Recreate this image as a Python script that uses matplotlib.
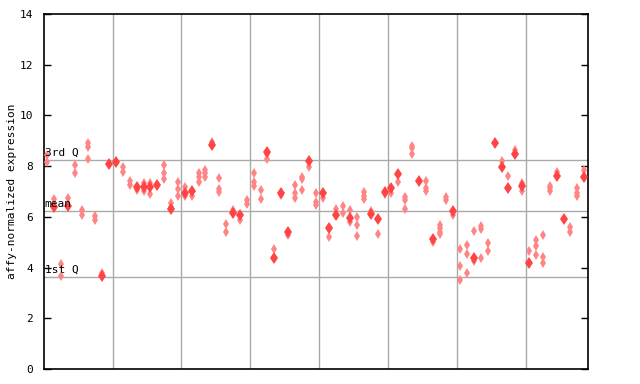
import matplotlib
matplotlib.use("Agg")
import matplotlib.pyplot as plt

# per-sample replicate values (open/checkered markers and filled markers)
open_values = [
    [8.44, 8.16], [6.7], [4.15, 3.65], [6.74], [8.04, 7.73],
    [6.27, 6.07], [8.91, 8.75, 8.3], [6.03, 5.87], [3.79], [],
    [], [7.97, 7.77], [7.41, 7.26], [7.05], [7.33, 7.02],
    [7.33, 6.9], [], [8.04, 7.73, 7.49], [6.55, 6.39], [7.37, 7.1, 6.82],
    [7.18, 6.82], [6.82], [7.73, 7.57, 7.37], [7.85, 7.73, 7.57], [8.95],
    [7.53, 7.1, 6.98], [5.72, 5.4], [6.27], [5.87], [6.66, 6.51],
    [7.71, 7.37, 7.22], [7.06, 6.7], [8.48, 8.28], [4.73], [6.86],
    [5.28], [7.26, 6.94, 6.74], [7.57, 7.49, 7.06], [7.97], [6.94, 6.59, 6.47],
    [6.74], [5.2], [6.31], [6.43, 6.15], [6.27, 5.8],
    [5.99, 5.68, 5.24], [6.98, 6.82, 6.7], [6.23], [5.32], [6.9],
    [6.94], [7.37], [6.78, 6.66, 6.31], [8.79, 8.71, 8.48], [],
    [7.41, 7.14, 7.02], [5.01], [5.68, 5.56, 5.4, 5.32], [6.78, 6.66], [6.07],
    [4.73, 4.06, 3.51], [4.89, 4.53, 3.79], [5.44, 4.26], [5.64, 5.52, 4.38], [4.97, 4.65],
    [], [8.2], [7.61], [8.64], [7.33, 7.02],
    [4.65], [5.09, 4.85, 4.5], [5.28, 4.42, 4.18], [7.22, 7.14, 7.02], [7.77],
    [], [5.6, 5.4], [7.14, 6.94, 6.82], [7.85],
]
filled_values = [
    [], [6.39], [], [6.43], [],
    [], [], [], [3.65], [8.08],
    [8.16], [], [], [7.18], [7.18],
    [7.18], [7.26], [], [6.3], [],
    [6.94], [7.02], [], [], [8.83],
    [], [], [6.15], [6.07], [],
    [], [], [8.56], [4.38], [6.94],
    [5.4], [], [], [8.2], [],
    [6.94], [5.56], [6.07], [], [5.95],
    [], [], [6.11], [5.91], [6.98],
    [7.14], [7.69], [], [], [7.41],
    [], [5.13], [], [], [6.23],
    [], [], [4.38], [], [],
    [8.9], [7.97], [7.14], [8.48], [7.22],
    [4.18], [], [], [], [7.61],
    [5.91], [], [], [7.57],
]
ref_lines = {"3rd Q": 8.24, "mean": 6.23, "1st Q": 3.63}
y_ticks = [0, 2, 4, 6, 8, 10, 12, 14]
group_size = 10

fig = plt.figure(figsize=(6.4, 3.84), dpi=100)
ax = fig.add_axes([44 / 640, 15 / 384, 544 / 640, 355 / 384])

n = len(open_values)
for i in range(group_size, n, group_size):
    ax.axvline(i - 0.5, color="#aaaaaa", lw=1, zorder=1)
for label, val in ref_lines.items():
    ax.axhline(val, color="#aaaaaa", lw=1, zorder=1)
    ax.text(-0.35, val + 0.08, label, fontsize=8, family="DejaVu Sans Mono",
            ha="left", va="bottom", zorder=4)

ox, oy, fx, fy = [], [], [], []
for i in range(n):
    for v in open_values[i]:
        ox.append(i); oy.append(v)
    for v in filled_values[i]:
        fx.append(i); fy.append(v)
ax.plot(ox, oy, linestyle="none", marker="d", markersize=5.3, color="#ff8585",
        markeredgewidth=0, zorder=3)
ax.plot(fx, fy, linestyle="none", marker="d", markersize=6, color="#ff4444",
        markeredgewidth=0, zorder=3)

ax.set_xlim(-0.45, n - 0.45)
ax.set_ylim(0, 14)
ax.set_xticks([])
ax.set_yticks(y_ticks)
ax.set_yticklabels([str(t) for t in y_ticks], family="DejaVu Sans Mono", fontsize=8)
ax.tick_params(axis="y", direction="in", length=5, width=1, right=True, pad=8)
for s in ax.spines.values():
    s.set_linewidth(1.2)
ax.set_ylabel("affy-normalized expression", family="DejaVu Sans Mono", fontsize=8, labelpad=2)

fig.savefig("out.png", dpi=100)
